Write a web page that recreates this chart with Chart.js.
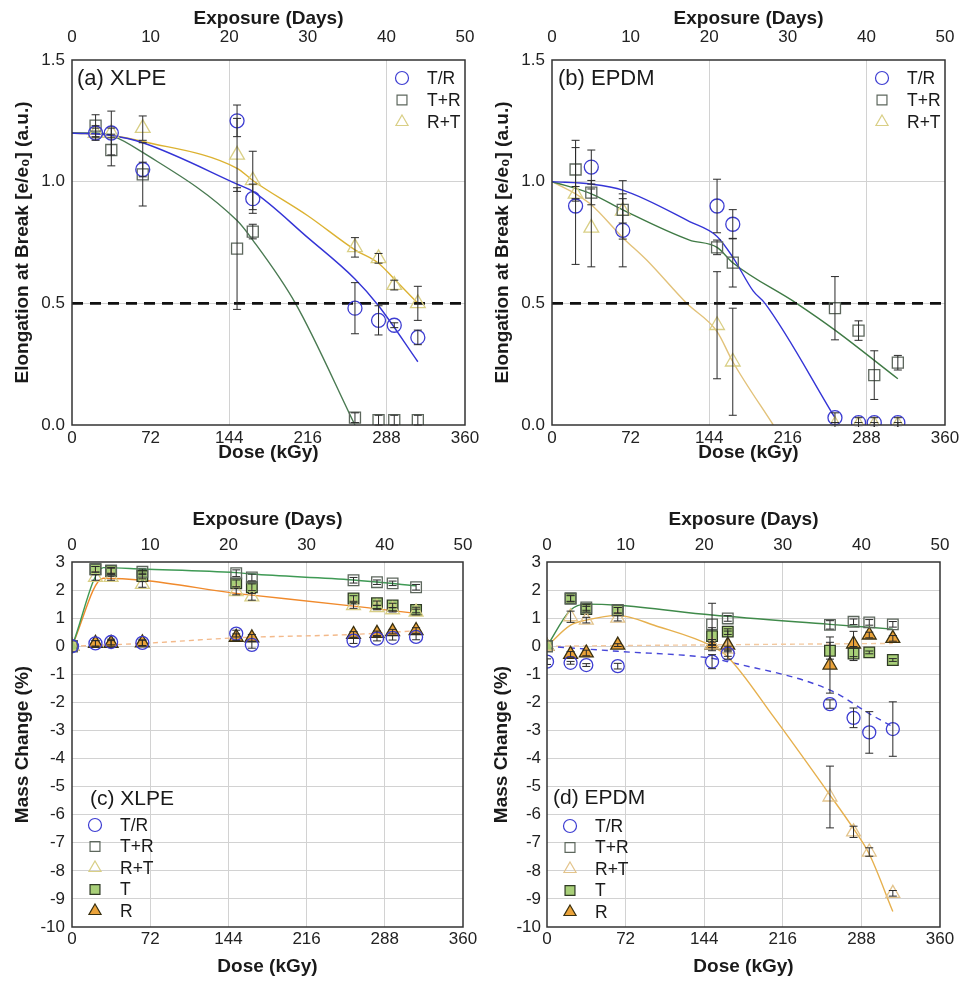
<!DOCTYPE html>
<html>
<head>
<meta charset="utf-8">
<script src="https://cdn.jsdelivr.net/npm/chart.js@4.4.1/dist/chart.umd.min.js"></script>
<style>
  html, body { margin: 0; padding: 0; background: #fff; }
  #wrap { position: relative; width: 963px; height: 981px; overflow: hidden; }
  canvas { position: absolute; }
</style>
</head>
<body>
<div id="wrap">
  <canvas id="pa" width="480" height="468" style="left:0;top:0"></canvas>
  <canvas id="pb" width="483" height="468" style="left:480px;top:0"></canvas>
  <canvas id="pc" width="480" height="491" style="left:0;top:490px"></canvas>
  <canvas id="pd" width="483" height="491" style="left:480px;top:490px"></canvas>
</div>
<script>
// exposure days -> dose (7.2 kGy per day)
const doses = [21.6, 36, 64.8, 151.2, 165.6, 259.2, 280.8, 295.2, 316.8];
const dosesZ = [0, 21.6, 36, 64.8, 151.2, 165.6, 259.2, 280.8, 295.2, 316.8];
const doseTicks = [0, 72, 144, 216, 288, 360];
const dayTicks = [0, 10, 20, 30, 40, 50];
const threshold = 0.5;

// (a) XLPE elongation at break
const aTR = [1.20, 1.20, 1.05, 1.25, 0.93, 0.48, 0.43, 0.41, 0.36];
const aTRErr = [0.02, 0.02, 0.03, 0.065, 0.06, 0.105, 0.06, 0.01, 0.03];
const aTpR = [1.23, 1.13, 1.03, 0.725, 0.795, 0.03, 0.02, 0.02, 0.02];
const aTpRErr = [0.045, 0.065, 0.13, 0.25, 0.03, 0.02, 0.02, 0.02, 0.02];
const aRpT = [1.20, 1.20, 1.22, 1.11, 1.005, 0.73, 0.685, 0.575, 0.50];
const aRpTErr = [0.03, 0.09, 0.05, 0.15, 0.12, 0.04, 0.02, 0.02, 0.07];
const aFitTRx = [0, 36, 64.8, 151.2, 165.6, 216, 259.2, 280.8, 316.8];
const aFitTRy = [1.2, 1.19, 1.16, 0.99, 0.96, 0.77, 0.60, 0.49, 0.26];
const aFitRpTx = [0, 36, 64.8, 151.2, 165.6, 216, 259.2, 280.8, 295.2, 316.8];
const aFitRpTy = [1.2, 1.19, 1.165, 1.055, 1.005, 0.86, 0.72, 0.665, 0.60, 0.50];
const aFitTpRx = [0, 21.6, 36, 64.8, 151.2, 165.6, 204.7, 259.2];
const aFitTpRy = [1.2, 1.2, 1.19, 1.12, 0.84, 0.76, 0.5, 0.0];

// (b) EPDM elongation at break
const bTR = [0.90, 1.06, 0.80, 0.90, 0.825, 0.03, 0.01, 0.01, 0.01];
const bTRErr = [0.24, 0.07, 0.15, 0.11, 0.06, 0.02, 0.02, 0.02, 0.02];
const bTpR = [1.05, 0.955, 0.884, 0.73, 0.667, 0.48, 0.388, 0.205, 0.256];
const bTpRErr = [0.12, 0.05, 0.12, 0.03, 0.10, 0.13, 0.04, 0.10, 0.03];
const bRpT = [0.95, 0.81, 0.88, 0.41, 0.26, 0.0, 0.0, 0.0, 0.0];
const bRpTErr = [0.03, 0.16, 0.05, 0.22, 0.22, 0.01, 0.01, 0.01, 0.01];
const bFitTRx = [0, 36, 64.8, 126, 151.2, 165.6, 184.4, 195.1, 259.2];
const bFitTRy = [1.0, 0.99, 0.965, 0.836, 0.775, 0.69, 0.55, 0.5, 0.03];
const bFitTpRx = [0, 36, 64.8, 126, 151.2, 165.6, 224, 259.2, 316.8];
const bFitTpRy = [1.0, 0.95, 0.884, 0.76, 0.73, 0.667, 0.5, 0.39, 0.19];
const bFitRpTx = [0, 21.6, 36, 64.8, 86.7, 123.4, 151.2, 165.6, 202.7];
const bFitRpTy = [1.0, 0.95, 0.905, 0.77, 0.678, 0.5, 0.384, 0.26, 0.0];

// (c) XLPE mass change (%)
const cTR = [0, 0.10, 0.15, 0.12, 0.45, 0.05, 0.20, 0.27, 0.30, 0.33];
const cTpR = [0, 2.74, 2.70, 2.65, 2.60, 2.45, 2.35, 2.28, 2.24, 2.10];
const cRpT = [0, 2.45, 2.45, 2.20, 1.95, 1.76, 1.45, 1.38, 1.30, 1.22];
const cT = [0, 2.74, 2.68, 2.50, 2.24, 2.10, 1.70, 1.53, 1.45, 1.29];
const cR = [0, 0.10, 0.10, 0.12, 0.32, 0.30, 0.42, 0.46, 0.52, 0.56];
const cErr = [0, 0.1, 0.1, 0.1, 0.12, 0.12, 0.1, 0.08, 0.08, 0.1];
const cFitGx = [0, 28.8, 64.8, 151.2, 165.6, 259.2, 316.8];
const cFitGy = [0, 2.8, 2.75, 2.62, 2.57, 2.36, 2.15];
const cFitOx = [0, 28.8, 64.8, 151.2, 165.6, 259.2, 280.8, 316.8];
const cFitOy = [0, 2.42, 2.35, 1.88, 1.82, 1.43, 1.33, 1.17];
const cFitRx = [0, 64.8, 151.2, 259.2, 316.8];
const cFitRy = [0, 0.1, 0.3, 0.42, 0.55];

// (d) EPDM mass change (%)
const dTR = [-0.55, -0.59, -0.67, -0.71, -0.55, -0.26, -2.06, -2.55, -3.07, -2.95];
const dTRErr = [0.1, 0.05, 0.05, 0.1, 0.25, 0.1, 0.15, 0.35, 0.74, 0.97];
const dTpR = [0, 1.70, 1.38, 1.28, 0.78, 0.99, 0.76, 0.87, 0.85, 0.78];
const dTpRErr = [0, 0.1, 0.1, 0.1, 0.75, 0.1, 0.15, 0.1, 0.1, 0.1];
const dRpT = [0, 1.05, 0.93, 1.00, 0.05, -0.10, -5.37, -6.61, -7.33, -8.80];
const dRpTErr = [0, 0.2, 0.1, 0.1, 0.1, 0.1, 1.1, 0.2, 0.15, 0.1];
const dT = [0, 1.70, 1.32, 1.28, 0.36, 0.52, -0.16, -0.26, -0.22, -0.49];
const dTErr = [0, 0.12, 0.1, 0.1, 0.3, 0.1, 0.3, 0.25, 0.05, 0.05];
const dR = [0, -0.29, -0.24, 0.04, 0.04, 0.04, -0.67, 0.08, 0.40, 0.28];
const dRErr = [0, 0.1, 0.1, 0.05, 0.2, 0.5, 1.0, 0.45, 0.1, 0.1];
const dFitGx = [0, 21.6, 36, 64.8, 151.2, 259.2, 316.8];
const dFitGy = [0, 1.29, 1.5, 1.46, 1.11, 0.78, 0.61];
const dFitOx = [0, 21.6, 36, 64.8, 100, 151.2, 165.6, 207.3, 259.2, 280.8, 295.2, 316.8];
const dFitOy = [0, 0.75, 0.93, 1.1, 0.72, 0.0, -0.38, -2.5, -5.3, -6.5, -7.4, -9.45];
const dFitBx = [0, 64.8, 151.2, 165.6, 259.2, 295.2, 316.8];
const dFitBy = [0, -0.18, -0.43, -0.55, -1.56, -2.4, -2.87];
const dFitRx = [0, 151.2, 316.8];
const dFitRy = [0, 0.05, 0.1];

Chart.defaults.font.family = '"Liberation Sans", Arial, Helvetica, sans-serif';
Chart.defaults.color = '#222';

const BLUE = '#3d3dd2';
const GREY = '#5d675d';
const PALE = '#d9cf86';
const GREEN_FILL = '#a8cf78';
const ORANGE_FILL = '#eba33a';

function pts(xs, ys) {
  return xs.map((x, i) => ({ x, y: ys[i] }));
}

function marks(label, xs, ys, errs, style, stroke, fill, r) {
  return {
    label, data: pts(xs, ys), errs,
    pointStyle: style, pointRadius: r, pointBorderWidth: 1.3,
    borderColor: stroke, backgroundColor: fill,
    showLine: false, legend: true,
  };
}

function fit(xs, ys, color, dash) {
  return {
    data: pts(xs, ys), showLine: true, pointRadius: 0,
    borderColor: color, borderWidth: 1.4, borderDash: dash || [],
    cubicInterpolationMode: 'monotone', fill: false,
  };
}

const errorBars = {
  id: 'errorBars',
  afterDatasetsDraw(chart) {
    const { ctx, chartArea: a } = chart;
    ctx.save();
    ctx.beginPath();
    ctx.rect(a.left, a.top - 2, a.right - a.left, a.bottom - a.top + 4);
    ctx.clip();
    ctx.strokeStyle = '#2a2a2a';
    ctx.lineWidth = 1;
    chart.data.datasets.forEach((ds, i) => {
      if (!ds.errs) return;
      const meta = chart.getDatasetMeta(i);
      const xs = chart.scales[meta.xAxisID];
      const ys = chart.scales[meta.yAxisID];
      ds.data.forEach((p, j) => {
        const e = ds.errs[j];
        if (!e) return;
        const px = xs.getPixelForValue(p.x);
        const y1 = ys.getPixelForValue(p.y + e);
        const y2 = ys.getPixelForValue(p.y - e);
        ctx.beginPath();
        ctx.moveTo(px, y1); ctx.lineTo(px, y2);
        ctx.moveTo(px - 4, y1); ctx.lineTo(px + 4, y1);
        ctx.moveTo(px - 4, y2); ctx.lineTo(px + 4, y2);
        ctx.stroke();
      });
    });
    ctx.restore();
  }
};

const frame = {
  id: 'frame',
  afterDraw(chart) {
    const { ctx, chartArea: a } = chart;
    ctx.save();
    ctx.strokeStyle = '#333';
    ctx.lineWidth = 1.5;
    ctx.strokeRect(a.left, a.top, a.right - a.left, a.bottom - a.top);
    ctx.restore();
  }
};

function drawMarker(ctx, style, r, x, y) {
  if (Chart.helpers && Chart.helpers.drawPoint) {
    Chart.helpers.drawPoint(ctx, { pointStyle: style, radius: r, rotation: 0, borderWidth: ctx.lineWidth }, x, y);
    return;
  }
  ctx.beginPath();
  if (style === 'circle') ctx.arc(x, y, r, 0, Math.PI * 2);
  else if (style === 'rect') { const s = r * Math.SQRT1_2; ctx.rect(x - s, y - s, 2 * s, 2 * s); }
  else { ctx.moveTo(x, y - r); ctx.lineTo(x + r * 0.866, y + r / 2); ctx.lineTo(x - r * 0.866, y + r / 2); ctx.closePath(); }
  ctx.fill(); ctx.stroke();
}

const panelLegend = {
  id: 'panelLegend',
  afterDraw(chart, args, o) {
    const { ctx } = chart;
    ctx.save();
    ctx.fillStyle = '#1a1a1a';
    ctx.textBaseline = 'middle';
    ctx.textAlign = 'left';
    ctx.font = o.titleSize + 'px "Liberation Sans", Arial, sans-serif';
    ctx.fillText(o.title, o.tx, o.ty);
    const items = chart.data.datasets.filter(d => d.legend);
    items.forEach((d, i) => {
      const y = o.y + i * o.dy;
      ctx.strokeStyle = d.borderColor;
      ctx.fillStyle = d.backgroundColor;
      ctx.lineWidth = 1.2;
      drawMarker(ctx, d.pointStyle, d.pointStyle === 'circle' ? 6.5 : 7, o.x, y);
      ctx.fillStyle = '#1a1a1a';
      ctx.font = '17.5px "Liberation Sans", Arial, sans-serif';
      ctx.fillText(d.label, o.textX, y + 1);
    });
    ctx.restore();
  }
};

function panel(id, g, datasets, yScale, legend) {
  const gridX = ctx => {
    const v = ctx.tick && ctx.tick.value;
    if (v === 0 || v === 360) return 'rgba(0,0,0,0)';
    if (g.allX || v === 144 || v === 288) return '#d2d2d2';
    return 'rgba(0,0,0,0)';
  };
  const tickFont = { size: 17 };
  const titleFont = { size: 19, weight: 'bold' };
  return new Chart(document.getElementById(id), {
    type: 'scatter',
    data: { datasets },
    options: {
      responsive: false,
      animation: false,
      events: [],
      layout: { padding: { left: 0, right: g.padRight, top: 0, bottom: 0 } },
      plugins: {
        legend: { display: false },
        tooltip: { enabled: false },
        panelLegend: legend,
      },
      scales: {
        x: {
          type: 'linear', position: 'bottom', min: doseTicks[0], max: doseTicks[doseTicks.length - 1],
          afterBuildTicks: s => { s.ticks = doseTicks.map(v => ({ value: v })); },
          ticks: { autoSkip: false, maxRotation: 0, padding: g.xTickPad, font: tickFont, color: '#222' },
          grid: { color: gridX, drawTicks: false, lineWidth: 1 },
          border: { display: false },
          title: { display: true, text: 'Dose (kGy)', font: titleFont, color: '#1a1a1a', padding: { top: 0, bottom: g.xTitlePad } },
          afterFit: s => { s.height = g.bottomH; s.paddingLeft = 0; s.paddingRight = 0; },
        },
        x2: {
          type: 'linear', position: 'top', min: dayTicks[0], max: dayTicks[dayTicks.length - 1],
          afterBuildTicks: s => { s.ticks = dayTicks.map(v => ({ value: v })); },
          ticks: { autoSkip: false, maxRotation: 0, padding: g.topTickPad, font: tickFont, color: '#222' },
          grid: { display: false, drawTicks: false },
          border: { display: false },
          title: { display: true, text: 'Exposure (Days)', font: titleFont, color: '#1a1a1a', padding: { top: g.topTitlePad, bottom: 0 } },
          afterFit: s => { s.height = g.topH; s.paddingLeft = 0; s.paddingRight = 0; },
        },
        y: {
          type: 'linear', position: 'left', min: yScale.ticks[0], max: yScale.ticks[yScale.ticks.length - 1],
          afterBuildTicks: s => { s.ticks = yScale.ticks.map(v => ({ value: v })); },
          ticks: { autoSkip: false, padding: g.yTickPad, font: tickFont, color: '#222', callback: yScale.fmt },
          grid: { color: c => (c.tick && (c.tick.value === yScale.ticks[0] || c.tick.value === yScale.ticks[yScale.ticks.length - 1])) ? 'rgba(0,0,0,0)' : '#d2d2d2', drawTicks: false },
          border: { display: false },
          title: { display: true, text: yScale.title, font: titleFont, color: '#1a1a1a', padding: { top: g.yTitlePad, bottom: 0 } },
          afterFit: s => { s.width = g.yW; s.paddingTop = 0; s.paddingBottom = 0; },
        },
      },
    },
    plugins: [errorBars, frame, panelLegend],
  });
}

const elongTicks = [0, 0.5, 1.0, 1.5];
const massTicks = [-10, -9, -8, -7, -6, -5, -4, -3, -2, -1, 0, 1, 2, 3];
const elongY = { ticks: elongTicks, fmt: v => Number(v).toFixed(1), title: 'Elongation at Break [e/e\u2080] (a.u.)' };
const massY = { ticks: massTicks, fmt: v => String(v), title: 'Mass Change (%)' };

const topGeom = { padRight: 15, yW: 72, topH: 60, bottomH: 43, xTickPad: 3, xTitlePad: 4, topTickPad: 12, topTitlePad: 7, yTickPad: 7, yTitlePad: 11, allX: false };
const botGeom = { padRight: 17, yW: 72, topH: 72, bottomH: 54, xTickPad: 2, xTitlePad: 3, topTickPad: 6, topTitlePad: 18, yTickPad: 7, yTitlePad: 11, allX: true };

const dashLine = {
  data: pts([doseTicks[0], doseTicks[doseTicks.length - 1]], [threshold, threshold]),
  showLine: true, pointRadius: 0, borderColor: '#111', borderWidth: 2.6, borderDash: [11, 7],
};

panel('pa', topGeom, [
  marks('T/R', doses, aTR, aTRErr, 'circle', BLUE, 'rgba(255,255,255,0)', 7),
  marks('T+R', doses, aTpR, aTpRErr, 'rect', GREY, 'rgba(255,255,255,0)', 7.8),
  marks('R+T', doses, aRpT, aRpTErr, 'triangle', PALE, 'rgba(255,255,255,0)', 8.5),
  dashLine,
  fit(aFitTRx, aFitTRy, '#3434d6'),
  fit(aFitTpRx, aFitTpRy, '#4a7a52'),
  fit(aFitRpTx, aFitRpTy, '#dcb232'),
], elongY, { title: '(a) XLPE', titleSize: 22, tx: 77, ty: 79, x: 402, y: 78, dy: 22, textX: 427 });

panel('pb', { ...topGeom, padRight: 18 }, [
  marks('T/R', doses, bTR, bTRErr, 'circle', BLUE, 'rgba(255,255,255,0)', 7),
  marks('T+R', doses, bTpR, bTpRErr, 'rect', GREY, 'rgba(255,255,255,0)', 7.8),
  marks('R+T', doses, bRpT, bRpTErr, 'triangle', PALE, 'rgba(255,255,255,0)', 8.5),
  { ...dashLine },
  fit(bFitTRx, bFitTRy, '#3434d6'),
  fit(bFitTpRx, bFitTpRy, '#3f7a45'),
  fit(bFitRpTx, bFitRpTy, '#e2c27a'),
], elongY, { title: '(b) EPDM', titleSize: 22, tx: 78, ty: 79, x: 402, y: 78, dy: 22, textX: 427 });

panel('pc', botGeom, [
  marks('T/R', dosesZ, cTR, cErr, 'circle', BLUE, 'rgba(255,255,255,0)', 6.5),
  marks('T+R', dosesZ, cTpR, cErr, 'rect', GREY, 'rgba(255,255,255,0)', 7.5),
  marks('R+T', dosesZ, cRpT, cErr, 'triangle', PALE, 'rgba(255,255,255,0)', 8),
  marks('T', dosesZ, cT, cErr, 'rect', '#2f3a25', GREEN_FILL, 7.5),
  marks('R', dosesZ, cR, cErr, 'triangle', '#3a3010', ORANGE_FILL, 8),
  fit(cFitGx, cFitGy, '#3f9a55'),
  fit(cFitOx, cFitOy, '#f08a2c'),
  fit(cFitRx, cFitRy, '#f3b98a', [5, 4]),
], massY, { title: '(c) XLPE', titleSize: 21, tx: 90, ty: 309, x: 95, y: 335, dy: 21.5, textX: 120 });

panel('pd', { ...botGeom, padRight: 23, yW: 67, yTickPad: 6, yTitlePad: 10 }, [
  marks('T/R', dosesZ, dTR, dTRErr, 'circle', BLUE, 'rgba(255,255,255,0)', 6.5),
  marks('T+R', dosesZ, dTpR, dTpRErr, 'rect', GREY, 'rgba(255,255,255,0)', 7.5),
  marks('R+T', dosesZ, dRpT, dRpTErr, 'triangle', '#e3c48c', 'rgba(255,255,255,0)', 8),
  marks('T', dosesZ, dT, dTErr, 'rect', '#2f3a25', GREEN_FILL, 7.5),
  marks('R', dosesZ, dR, dRErr, 'triangle', '#3a3010', ORANGE_FILL, 8),
  fit(dFitGx, dFitGy, '#3f8a4a'),
  fit(dFitOx, dFitOy, '#e6b04e'),
  fit(dFitBx, dFitBy, '#4646d8', [6, 5]),
  fit(dFitRx, dFitRy, '#f3c9a0', [5, 4]),
], massY, { title: '(d) EPDM', titleSize: 21, tx: 73, ty: 308, x: 90, y: 336, dy: 21.5, textX: 115 });
</script>
</body>
</html>
